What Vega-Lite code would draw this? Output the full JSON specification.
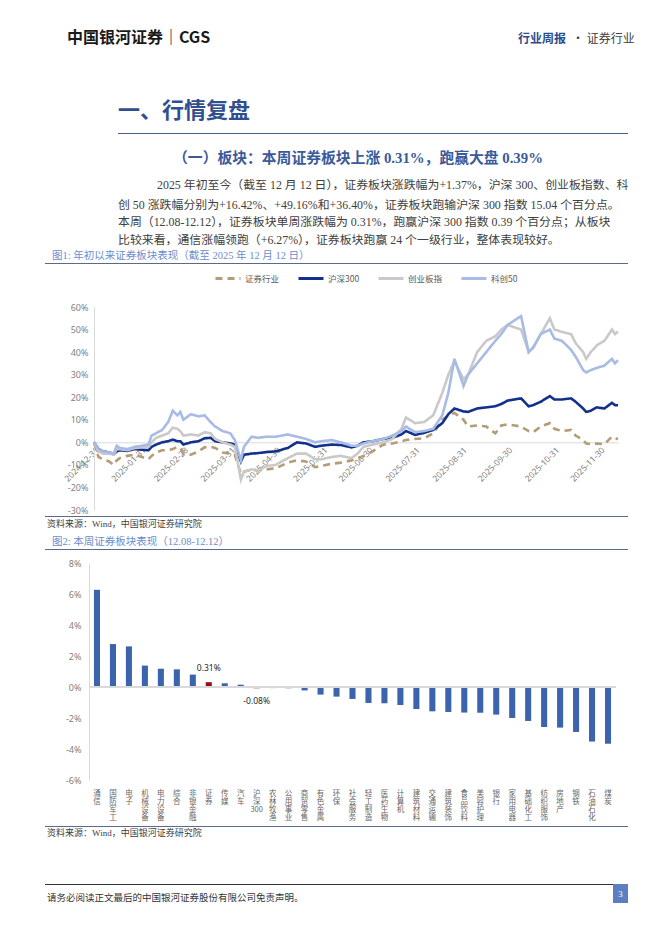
{
"$schema": "https://vega.github.io/schema/vega-lite/v6.json",
"background": "white",
"padding": {"left": 45, "top": 30, "right": 0, "bottom": 0},
"spacing": 0,
"resolve": {"scale": {"color": "independent", "strokeDash": "independent"}, "legend": {"color": "independent", "strokeDash": "independent"}},
"config": {
  "view": {"stroke": null},
  "concat": {"spacing": 0},
  "title": {"font": "Liberation Serif, Noto Sans CJK SC", "anchor": "start", "fontWeight": "normal"},
  "locale": {"number": {"decimal": ".", "thousands": ",", "grouping": [3], "currency": ["$", ""], "minus": "-"}}
},
"vconcat": [
  {"hconcat": [
    {"width": 420, "height": 54, "data": {"values": []}, "mark": {"type": "point", "opacity": 0}, "encoding": {},
     "title": {"text": "中国银河证券｜CGS", "font": "Noto Sans CJK SC", "fontSize": 16, "fontWeight": "bold", "color": "#1a1a1a", "dx": 22, "offset": 0}},
    {"width": 101, "height": 54, "data": {"values": []}, "mark": {"type": "point", "opacity": 0}, "encoding": {},
     "title": {"text": "行业周报", "anchor": "end", "font": "Noto Sans CJK SC", "fontSize": 12, "fontWeight": "bold", "color": "#2e4a8b", "offset": 0}},
    {"width": 62, "height": 54, "data": {"values": []}, "mark": {"type": "point", "opacity": 0}, "encoding": {},
     "title": {"text": "· 证券行业", "anchor": "start", "font": "Noto Sans CJK SC", "fontSize": 12, "color": "#404040", "dx": 6, "offset": 0}}
  ]},
  {"hconcat": [
    {"width": 73, "height": 1, "data": {"values": []}, "mark": {"type": "point", "opacity": 0}, "encoding": {}},
    {"width": 510, "height": 1, "data": {"values": []}, "mark": {"type": "point", "opacity": 0}, "encoding": {},
     "view": {"fill": "#4b5c8e", "stroke": null},
     "title": {"text": "一、行情复盘", "font": "Noto Sans CJK SC", "fontSize": 22, "fontWeight": "bold", "color": "#2f4f8f", "offset": 10}}
  ]},
  {"width": 1, "height": 17, "data": {"values": []}, "mark": {"type": "point", "opacity": 0}, "encoding": {}},
  {"hconcat": [
    {"width": 73, "height": 1, "data": {"values": []}, "mark": {"type": "point", "opacity": 0}, "encoding": {}},
    {"width": 510, "height": 13, "data": {"values": []}, "mark": {"type": "point", "opacity": 0}, "encoding": {},
     "title": {"text": "（一）板块：本周证券板块上涨 0.31%，跑赢大盘 0.39%", "anchor": "middle", "dx": -15, "fontSize": 14.8, "fontWeight": "bold", "color": "#3a5a99", "offset": 0}}
  ]},
  {"hconcat": [
    {"width": 73, "height": 1, "data": {"values": []}, "mark": {"type": "point", "opacity": 0}, "encoding": {}},
    {"width": 510, "height": 6, "data": {"values": []}, "mark": {"type": "point", "opacity": 0}, "encoding": {},
     "title": {"text": "2025 年初至今（截至 12 月 12 日），证券板块涨跌幅为+1.37%，沪深 300、创业板指数、科", "dx": 39, "fontSize": 11.9, "color": "#404040", "offset": 0}}
  ]},
  {"hconcat": [
    {"width": 73, "height": 1, "data": {"values": []}, "mark": {"type": "point", "opacity": 0}, "encoding": {}},
    {"width": 510, "height": 3, "data": {"values": []}, "mark": {"type": "point", "opacity": 0}, "encoding": {},
     "title": {"text": ["创 50 涨跌幅分别为+16.42%、+49.16%和+36.40%，证券板块跑输沪深 300 指数 15.04 个百分点。", "本周（12.08-12.12），证券板块单周涨跌幅为 0.31%，跑赢沪深 300 指数 0.39 个百分点；从板块", "比较来看，通信涨幅领跑（+6.27%），证券板块跑赢 24 个一级行业，整体表现较好。"],
      "fontSize": 11.9, "lineHeight": 17.6, "color": "#404040", "offset": 0}}
  ]},
  {"width": 583, "height": 1, "data": {"values": []}, "mark": {"type": "point", "opacity": 0}, "encoding": {},
   "view": {"fill": "#5c6b85", "stroke": null},
   "title": {"text": "图1: 年初以来证券板块表现（截至 2025 年 12 月 12 日）", "fontSize": 10.5, "color": "#6c8dcc", "dx": 7, "offset": 2}},
  {"hconcat": [
   {"width": 1, "height": 1, "data": {"values": []}, "mark": {"type": "point", "opacity": 0}, "encoding": {}},
   {
    "width": 524, "height": 203,
    "data": {"values": [
      {"d": "2024-12-31", "证券行业": 0, "沪深300": 0, "创业板指": 0, "科创50": 0},
      {"d": "2025-01-03", "证券行业": -0.065, "沪深300": -0.03, "创业板指": -0.04, "科创50": -0.03},
      {"d": "2025-01-06", "证券行业": -0.075, "沪深300": -0.04, "创业板指": -0.05, "科创50": -0.04},
      {"d": "2025-01-10", "证券行业": -0.085, "沪深300": -0.045, "创业板指": -0.05, "科创50": -0.045},
      {"d": "2025-01-13", "证券行业": -0.10, "沪深300": -0.053, "创业板指": -0.055, "科创50": -0.05},
      {"d": "2025-01-15", "证券行业": -0.08, "沪深300": -0.04, "创业板指": -0.03, "科创50": -0.015},
      {"d": "2025-01-17", "证券行业": -0.07, "沪深300": -0.035, "创业板指": -0.03, "科创50": -0.025},
      {"d": "2025-01-22", "证券行业": -0.06, "沪深300": -0.038, "创业板指": -0.035, "科创50": -0.03},
      {"d": "2025-01-27", "证券行业": -0.055, "沪深300": -0.03, "创业板指": -0.025, "科创50": -0.02},
      {"d": "2025-02-05", "证券行业": -0.075, "沪深300": -0.035, "创业板指": -0.02, "科创50": -0.01},
      {"d": "2025-02-07", "证券行业": -0.06, "沪深300": -0.02, "创业板指": 0.0, "科创50": 0.03},
      {"d": "2025-02-10", "证券行业": -0.045, "沪深300": -0.01, "创业板指": 0.02, "科创50": 0.04},
      {"d": "2025-02-14", "证券行业": -0.035, "沪深300": 0.0, "创业板指": 0.03, "科创50": 0.055},
      {"d": "2025-02-18", "证券行业": -0.035, "沪深300": 0.005, "创业板指": 0.04, "科创50": 0.09},
      {"d": "2025-02-21", "证券行业": -0.03, "沪深300": 0.012, "创业板指": 0.065, "科创50": 0.14},
      {"d": "2025-02-24", "证券行业": -0.02, "沪深300": 0.005, "创业板指": 0.06, "科创50": 0.12},
      {"d": "2025-02-26", "证券行业": -0.025, "沪深300": 0.005, "创业板指": 0.05, "科创50": 0.135},
      {"d": "2025-02-28", "证券行业": -0.05, "沪深300": -0.01, "创业板指": 0.03, "科创50": 0.10},
      {"d": "2025-03-05", "证券行业": -0.055, "沪深300": 0.0, "创业板指": 0.035, "科创50": 0.125},
      {"d": "2025-03-10", "证券行业": -0.04, "沪深300": 0.005, "创业板指": 0.03, "科创50": 0.115},
      {"d": "2025-03-14", "证券行业": -0.022, "沪深300": 0.018, "创业板指": 0.045, "科创50": 0.12},
      {"d": "2025-03-18", "证券行业": -0.02, "沪深300": 0.02, "创业板指": 0.04, "科创50": 0.09},
      {"d": "2025-03-21", "证券行业": -0.025, "沪深300": 0.005, "创业板指": 0.015, "科创50": 0.07},
      {"d": "2025-03-26", "证券行业": -0.045, "沪深300": 0.0, "创业板指": 0.0, "科创50": 0.05},
      {"d": "2025-03-31", "证券行业": -0.05, "沪深300": -0.005, "创业板指": -0.01, "科创50": 0.04},
      {"d": "2025-04-03", "证券行业": -0.055, "沪深300": -0.01, "创业板指": -0.02, "科创50": 0.01},
      {"d": "2025-04-07", "证券行业": -0.14, "沪深300": -0.085, "创业板指": -0.165, "科创50": -0.08},
      {"d": "2025-04-09", "证券行业": -0.13, "沪深300": -0.055, "创业板指": -0.13, "科创50": -0.02},
      {"d": "2025-04-14", "证券行业": -0.12, "沪深300": -0.05, "创业板指": -0.12, "科创50": 0.025},
      {"d": "2025-04-18", "证券行业": -0.125, "沪深300": -0.048, "创业板指": -0.125, "科创50": 0.02},
      {"d": "2025-04-24", "证券行业": -0.12, "沪深300": -0.043, "创业板指": -0.105, "科创50": 0.025},
      {"d": "2025-04-30", "证券行业": -0.115, "沪深300": -0.04, "创业板指": -0.10, "科创50": 0.025},
      {"d": "2025-05-08", "证券行业": -0.09, "沪深300": -0.025, "创业板指": -0.07, "科创50": 0.035},
      {"d": "2025-05-14", "证券行业": -0.08, "沪深300": 0.0, "创业板指": -0.05, "科创50": 0.025},
      {"d": "2025-05-20", "证券行业": -0.085, "沪深300": -0.005, "创业板指": -0.05, "科创50": 0.015},
      {"d": "2025-05-26", "证券行业": -0.11, "沪深300": -0.02, "创业板指": -0.075, "科创50": 0.0},
      {"d": "2025-05-30", "证券行业": -0.105, "沪深300": -0.015, "创业板指": -0.075, "科创50": 0.005},
      {"d": "2025-06-06", "证券行业": -0.095, "沪深300": -0.01, "创业板指": -0.065, "科创50": 0.01},
      {"d": "2025-06-12", "证券行业": -0.09, "沪深300": -0.012, "创业板指": -0.06, "科创50": 0.0},
      {"d": "2025-06-19", "证券行业": -0.08, "沪深300": -0.022, "创业板指": -0.07, "科创50": -0.015},
      {"d": "2025-06-23", "证券行业": -0.07, "沪深300": -0.015, "创业板指": -0.05, "科创50": -0.015},
      {"d": "2025-06-27", "证券行业": -0.06, "沪深300": 0.0, "创业板指": -0.02, "科创50": -0.005},
      {"d": "2025-07-03", "证券行业": -0.04, "沪深300": 0.005, "创业板指": -0.01, "科创50": 0.005},
      {"d": "2025-07-10", "证券行业": -0.01, "沪深300": 0.015, "创业板指": 0.0, "科创50": 0.015},
      {"d": "2025-07-16", "证券行业": -0.005, "沪深300": 0.02, "创业板指": 0.015, "科创50": 0.03},
      {"d": "2025-07-22", "证券行业": 0.005, "沪深300": 0.035, "创业板指": 0.06, "科创50": 0.05},
      {"d": "2025-07-25", "证券行业": 0.01, "沪深300": 0.05, "创业板指": 0.11, "科创50": 0.07},
      {"d": "2025-07-31", "证券行业": 0.015, "沪深300": 0.033, "创业板指": 0.085, "科创50": 0.045},
      {"d": "2025-08-06", "证券行业": 0.018, "沪深300": 0.042, "创业板指": 0.09, "科创50": 0.05},
      {"d": "2025-08-12", "证券行业": 0.04, "沪深300": 0.055, "创业板指": 0.12, "科创50": 0.06},
      {"d": "2025-08-18", "证券行业": 0.10, "沪深300": 0.085, "创业板指": 0.22, "科创50": 0.12},
      {"d": "2025-08-22", "证券行业": 0.12, "沪深300": 0.125, "创业板指": 0.30, "科创50": 0.22},
      {"d": "2025-08-26", "证券行业": 0.13, "沪深300": 0.15, "创业板指": 0.36, "科创50": 0.37},
      {"d": "2025-09-01", "证券行业": 0.10, "沪深300": 0.137, "创业板指": 0.28, "科创50": 0.25},
      {"d": "2025-09-04", "证券行业": 0.07, "沪深300": 0.135, "创业板指": 0.30, "科创50": 0.30},
      {"d": "2025-09-10", "证券行业": 0.075, "沪深300": 0.15, "创业板指": 0.40, "科创50": 0.35},
      {"d": "2025-09-16", "证券行业": 0.07, "沪深300": 0.155, "创业板指": 0.45, "科创50": 0.40},
      {"d": "2025-09-22", "证券行业": 0.04, "沪深300": 0.16, "创业板指": 0.47, "科创50": 0.45},
      {"d": "2025-09-26", "证券行业": 0.075, "沪深300": 0.17, "创业板指": 0.50, "科创50": 0.48},
      {"d": "2025-09-30", "证券行业": 0.08, "沪深300": 0.185, "创业板指": 0.52, "科创50": 0.52},
      {"d": "2025-10-09", "证券行业": 0.07, "沪深300": 0.195, "创业板指": 0.50, "科创50": 0.56},
      {"d": "2025-10-14", "证券行业": 0.05, "沪深300": 0.16, "创业板指": 0.40, "科创50": 0.40},
      {"d": "2025-10-17", "证券行业": 0.045, "沪深300": 0.165, "创业板指": 0.42, "科创50": 0.42},
      {"d": "2025-10-22", "证券行业": 0.07, "沪深300": 0.18, "创业板指": 0.48, "科创50": 0.48},
      {"d": "2025-10-28", "证券行业": 0.085, "沪深300": 0.205, "创业板指": 0.55, "科创50": 0.50},
      {"d": "2025-10-31", "证券行业": 0.06, "沪深300": 0.19, "创业板指": 0.50, "科创50": 0.46},
      {"d": "2025-11-05", "证券行业": 0.05, "沪深300": 0.19, "创业板指": 0.49, "科创50": 0.45},
      {"d": "2025-11-11", "证券行业": 0.055, "沪深300": 0.195, "创业板指": 0.48, "科创50": 0.41},
      {"d": "2025-11-14", "证券行业": 0.03, "沪深300": 0.18, "创业板指": 0.44, "科创50": 0.38},
      {"d": "2025-11-19", "证券行业": 0.01, "沪深300": 0.15, "创业板指": 0.40, "科创50": 0.32},
      {"d": "2025-11-21", "证券行业": -0.005, "沪深300": 0.135, "创业板指": 0.37, "科创50": 0.31},
      {"d": "2025-11-24", "证券行业": -0.008, "沪深300": 0.14, "创业板指": 0.40, "科创50": 0.32},
      {"d": "2025-11-28", "证券行业": -0.005, "沪深300": 0.155, "创业板指": 0.43, "科创50": 0.33},
      {"d": "2025-12-03", "证券行业": -0.008, "沪深300": 0.15, "创业板指": 0.45, "科创50": 0.34},
      {"d": "2025-12-08", "证券行业": 0.025, "沪深300": 0.175, "创业板指": 0.50, "科创50": 0.37},
      {"d": "2025-12-10", "证券行业": 0.02, "沪深300": 0.165, "创业板指": 0.48, "科创50": 0.35},
      {"d": "2025-12-12", "证券行业": 0.0137, "沪深300": 0.1642, "创业板指": 0.4916, "科创50": 0.364}
    ]},
    "transform": [{"fold": ["证券行业", "沪深300", "创业板指", "科创50"], "as": ["series", "value"]}],
    "mark": {"type": "line", "strokeWidth": 2.6},
    "encoding": {
      "x": {"field": "d", "type": "temporal",
        "scale": {"type": "utc", "nice": false, "domain": [{"year": 2024, "month": 12, "date": 31, "utc": true}, {"year": 2025, "month": 12, "date": 12, "utc": true}]},
        "axis": {"title": null, "grid": false, "ticks": false, "domainColor": "#d9d9d9", "offset": -67.7, "labelAngle": -45, "labelFontSize": 8.5, "labelColor": "#7f7f7f", "labelFont": "Noto Sans", "labelPadding": 3, "labelFlush": false, "labelOverlap": false, "format": "%Y-%m-%d",
          "values": [
            {"year": 2024, "month": 12, "date": 31, "utc": true},
            {"year": 2025, "month": 1, "date": 31, "utc": true},
            {"year": 2025, "month": 2, "date": 28, "utc": true},
            {"year": 2025, "month": 3, "date": 31, "utc": true},
            {"year": 2025, "month": 4, "date": 30, "utc": true},
            {"year": 2025, "month": 5, "date": 31, "utc": true},
            {"year": 2025, "month": 6, "date": 30, "utc": true},
            {"year": 2025, "month": 7, "date": 31, "utc": true},
            {"year": 2025, "month": 8, "date": 31, "utc": true},
            {"year": 2025, "month": 9, "date": 30, "utc": true},
            {"year": 2025, "month": 10, "date": 31, "utc": true},
            {"year": 2025, "month": 11, "date": 30, "utc": true}
          ]}},
      "y": {"field": "value", "type": "quantitative",
        "scale": {"domain": [-0.3, 0.6], "nice": false, "zero": false},
        "axis": {"title": null, "grid": false, "ticks": false, "domainColor": "#d9d9d9", "values": [-0.3, -0.2, -0.1, 0, 0.1, 0.2, 0.3, 0.4, 0.5, 0.6], "format": ".0%", "labelFontSize": 9, "labelColor": "#7f7f7f", "labelFont": "Noto Sans", "labelPadding": 6, "minExtent": 48}},
      "color": {"field": "series", "type": "nominal",
        "scale": {"domain": ["证券行业", "沪深300", "创业板指", "科创50"], "range": ["#b49c76", "#12318a", "#c9c9c9", "#a7bbe5"]},
        "legend": {"title": null, "orient": "none", "legendX": 120, "legendY": -42.5, "padding": 0, "direction": "horizontal", "symbolType": "stroke", "symbolSize": 625, "symbolStrokeWidth": 3, "labelFontSize": 8.5, "labelOffset": 3, "labelColor": "#595959", "labelFont": "Noto Sans CJK SC", "columnPadding": 12}},
      "strokeDash": {"field": "series", "type": "nominal",
        "scale": {"domain": ["证券行业", "沪深300", "创业板指", "科创50"], "range": [[7, 5], [1, 0], [1, 0], [1, 0]]},
        "legend": {"title": null, "orient": "none", "legendX": 120, "legendY": -42.5, "padding": 0, "direction": "horizontal", "symbolType": "stroke", "symbolSize": 625, "symbolStrokeWidth": 3, "labelFontSize": 8.5, "labelOffset": 3, "labelColor": "#595959", "labelFont": "Noto Sans CJK SC", "columnPadding": 12}}
    }
   }
  ], "resolve": {"scale": {"color": "independent", "strokeDash": "independent"}, "legend": {"color": "independent", "strokeDash": "independent"}}},
  {"width": 1, "height": 1, "data": {"values": []}, "mark": {"type": "point", "opacity": 0}, "encoding": {}},
  {"width": 583, "height": 1, "data": {"values": []}, "mark": {"type": "point", "opacity": 0}, "encoding": {},
   "view": {"fill": "#5c6b85", "stroke": null},
   "title": {"text": "资料来源：Wind，中国银河证券研究院", "orient": "bottom", "fontSize": 9, "color": "#404040", "dx": 2, "offset": 3}},
  {"width": 1, "height": 7, "data": {"values": []}, "mark": {"type": "point", "opacity": 0}, "encoding": {}},
  {"width": 583, "height": 1, "data": {"values": []}, "mark": {"type": "point", "opacity": 0}, "encoding": {},
   "view": {"fill": "#5c6b85", "stroke": null},
   "title": {"text": "图2: 本周证券板块表现（12.08-12.12）", "fontSize": 10.5, "color": "#6c8dcc", "dx": 7, "offset": 2}},
  {"width": 1, "height": 9, "data": {"values": []}, "mark": {"type": "point", "opacity": 0}, "encoding": {}},
  {"hconcat": [
   {"width": 1, "height": 1, "data": {"values": []}, "mark": {"type": "point", "opacity": 0}, "encoding": {}},
   {
    "width": 527, "height": 217,
    "data": {"values": [
      {"name": "通信", "v": 0.0627},
      {"name": "国防军工", "v": 0.0277},
      {"name": "电子", "v": 0.0262},
      {"name": "机械设备", "v": 0.0138},
      {"name": "电力设备", "v": 0.0118},
      {"name": "综合", "v": 0.0114},
      {"name": "非银金融", "v": 0.0080},
      {"name": "证券", "v": 0.0031},
      {"name": "传媒", "v": 0.0024},
      {"name": "汽车", "v": 0.0015},
      {"name": "沪深300", "v": -0.0008},
      {"name": "农林牧渔", "v": -0.0007},
      {"name": "公用事业", "v": -0.0008},
      {"name": "商贸零售", "v": -0.0022},
      {"name": "有色金属", "v": -0.0049},
      {"name": "环保", "v": -0.0062},
      {"name": "社会服务", "v": -0.0077},
      {"name": "轻工制造", "v": -0.0103},
      {"name": "医药生物", "v": -0.0105},
      {"name": "计算机", "v": -0.0116},
      {"name": "建筑材料", "v": -0.0142},
      {"name": "交通运输", "v": -0.0157},
      {"name": "建筑装饰", "v": -0.0161},
      {"name": "食品饮料", "v": -0.0165},
      {"name": "美容护理", "v": -0.0166},
      {"name": "银行", "v": -0.0178},
      {"name": "家用电器", "v": -0.0200},
      {"name": "基础化工", "v": -0.0219},
      {"name": "纺织服饰", "v": -0.0258},
      {"name": "房地产", "v": -0.0262},
      {"name": "钢铁", "v": -0.0290},
      {"name": "石油石化", "v": -0.0352},
      {"name": "煤炭", "v": -0.0366}
    ]},
    "encoding": {
      "x": {"field": "name", "type": "nominal", "sort": null,
        "scale": {"paddingInner": 0.62, "paddingOuter": 0.31},
        "axis": {"title": null, "labelAngle": 0, "labelExpr": "datum.label === '沪深300' ? ['沪','深','300'] : split(datum.label, '')", "labelLineHeight": 8, "labelFontSize": 7.5, "labelColor": "#666666", "labelFont": "Noto Sans CJK SC", "ticks": false, "domain": false, "labelPadding": 9}},
      "y": {"field": "v", "type": "quantitative",
        "scale": {"domain": [-0.06, 0.08], "nice": false},
        "axis": {"title": null, "grid": false, "ticks": false, "domainColor": "#d9d9d9", "values": [-0.06, -0.04, -0.02, 0, 0.02, 0.04, 0.06, 0.08], "format": ".0%", "labelFontSize": 9, "labelColor": "#7f7f7f", "labelFont": "Noto Sans", "labelPadding": 8, "minExtent": 43}}
    },
    "layer": [
      {"mark": {"type": "bar"},
       "encoding": {"color": {"condition": {"test": "datum.name === '证券' || datum.name === '沪深300'", "value": "#9c0c0c"}, "value": "#3b64ad"}}},
      {"mark": {"type": "rule", "color": "#d9d9d9"}, "encoding": {"x": null, "y": {"datum": 0}}},
      {"mark": {"type": "text", "baseline": "bottom", "dy": -9, "fontSize": 8.5, "font": "Noto Sans", "color": "#262626"},
       "encoding": {"text": {"condition": {"test": "datum.name === '证券'", "field": "v", "format": ".2%"}, "value": ""}}},
      {"mark": {"type": "text", "baseline": "top", "dy": 9, "fontSize": 8.5, "font": "Noto Sans", "color": "#262626"},
       "encoding": {"text": {"condition": {"test": "datum.name === '沪深300'", "field": "v", "format": ".2%"}, "value": ""}}}
    ]
   }
  ]},
  {"width": 1, "height": 5, "data": {"values": []}, "mark": {"type": "point", "opacity": 0}, "encoding": {}},
  {"width": 583, "height": 1, "data": {"values": []}, "mark": {"type": "point", "opacity": 0}, "encoding": {},
   "view": {"fill": "#5c6b85", "stroke": null},
   "title": {"text": "资料来源：Wind，中国银河证券研究院", "orient": "bottom", "fontSize": 9, "color": "#404040", "dx": 2, "offset": 2}},
  {"width": 1, "height": 46, "data": {"values": []}, "mark": {"type": "point", "opacity": 0}, "encoding": {}},
  {"hconcat": [
    {"width": 568, "height": 1, "data": {"values": []}, "mark": {"type": "point", "opacity": 0}, "encoding": {},
     "view": {"fill": "#333333", "stroke": null},
     "title": {"text": "请务必阅读正文最后的中国银河证券股份有限公司免责声明。", "orient": "bottom", "fontSize": 9.5, "color": "#333333", "dx": 2, "offset": 8}},
    {"width": 15, "height": 19, "data": {"values": [{"p": "3"}]}, "mark": {"type": "text", "color": "white", "fontSize": 9, "font": "Liberation Serif"}, "encoding": {"text": {"field": "p"}},
     "view": {"fill": "#5b7fc0", "stroke": null}}
  ]}
]
}
